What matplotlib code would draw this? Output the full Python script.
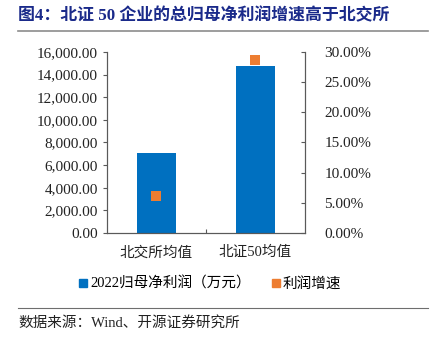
import matplotlib.pyplot as plt
from matplotlib.lines import Line2D
from matplotlib.ticker import FuncFormatter, MultipleLocator

plt.rcParams['font.family'] = ['Liberation Serif', 'Noto Sans CJK SC']

categories = ['北交所均值', '北证50均值']
profit_2022 = [7050, 14750]       # 2022 归母净利润（万元）
profit_growth = [6.2, 28.6]       # 利润增速（%）

title = '图4：北证 50 企业的总归母净利润增速高于北交所'
source = '数据来源：Wind、开源证券研究所'
bar_label = '2022归母净利润（万元）'
dot_label = '利润增速'

blue = '#0070C0'
orange = '#ED7D31'

fig = plt.figure(figsize=(4.38, 3.39), dpi=100)
ax = fig.add_axes([0.2443, 0.3127, 0.452, 0.534])
ax2 = ax.twinx()

x = range(len(categories))
ax.bar(x, profit_2022, width=0.4, color=blue, zorder=2)
ax2.scatter(x, profit_growth, marker='s', s=44, color=orange, zorder=3, linewidths=0)

ax.set_xlim(-0.5, 1.5)
ax.set_ylim(0, 16000)
ax2.set_ylim(0, 30)
ax.yaxis.set_major_locator(MultipleLocator(2000))
ax2.yaxis.set_major_locator(MultipleLocator(5))
ax.yaxis.set_major_formatter(FuncFormatter(lambda v, p: f'{v:,.2f}'))
ax2.yaxis.set_major_formatter(FuncFormatter(lambda v, p: f'{v:.2f}%'))

ax.set_xticks([0.5])
ax.set_xticklabels([''])
ax.tick_params(axis='x', direction='in', length=3, color='#595959')
for i, c in enumerate(categories):
    ax.text(i, -0.07, c, transform=ax.get_xaxis_transform(), ha='center', va='top',
            fontsize=10.5, color='#222222')

ax.tick_params(axis='y', direction='out', length=3, labelsize=11, colors='#222222',
               color='#595959')
ax2.tick_params(axis='y', direction='in', length=3, pad=14, labelsize=11, colors='#222222',
                color='#595959')

for a in (ax, ax2):
    a.spines['top'].set_visible(False)
    for s in ('left', 'right', 'bottom'):
        a.spines[s].set_color('#595959')
        a.spines[s].set_linewidth(0.8)

# title, rules and source
fig.text(18 / 438, 1 - 16 / 339, title, fontsize=12.2, fontweight='bold', color='#1a2a8a',
         va='center', ha='left')
fig.add_artist(Line2D([18 / 438, 428 / 438], [1 - 31 / 339] * 2, color='#8c8c8c', lw=1.2))
fig.add_artist(Line2D([18 / 438, 428 / 438], [1 - 308 / 339] * 2, color='#6e6e6e', lw=0.8))
fig.text(18 / 438, 1 - 323 / 339, source, fontsize=10.5, color='#222222', va='center', ha='left')

handles = [Line2D([], [], marker='s', ls='', color=blue, markersize=6),
           Line2D([], [], marker='s', ls='', color=orange, markersize=6)]
fig.legend(handles, [bar_label, dot_label], loc='center', bbox_to_anchor=(0.478, 1 - 284 / 339),
           ncol=2, frameon=False, fontsize=10.5, handletextpad=0.1, columnspacing=1.3,
           handlelength=0.8)

fig.savefig('out.png', dpi=100)
